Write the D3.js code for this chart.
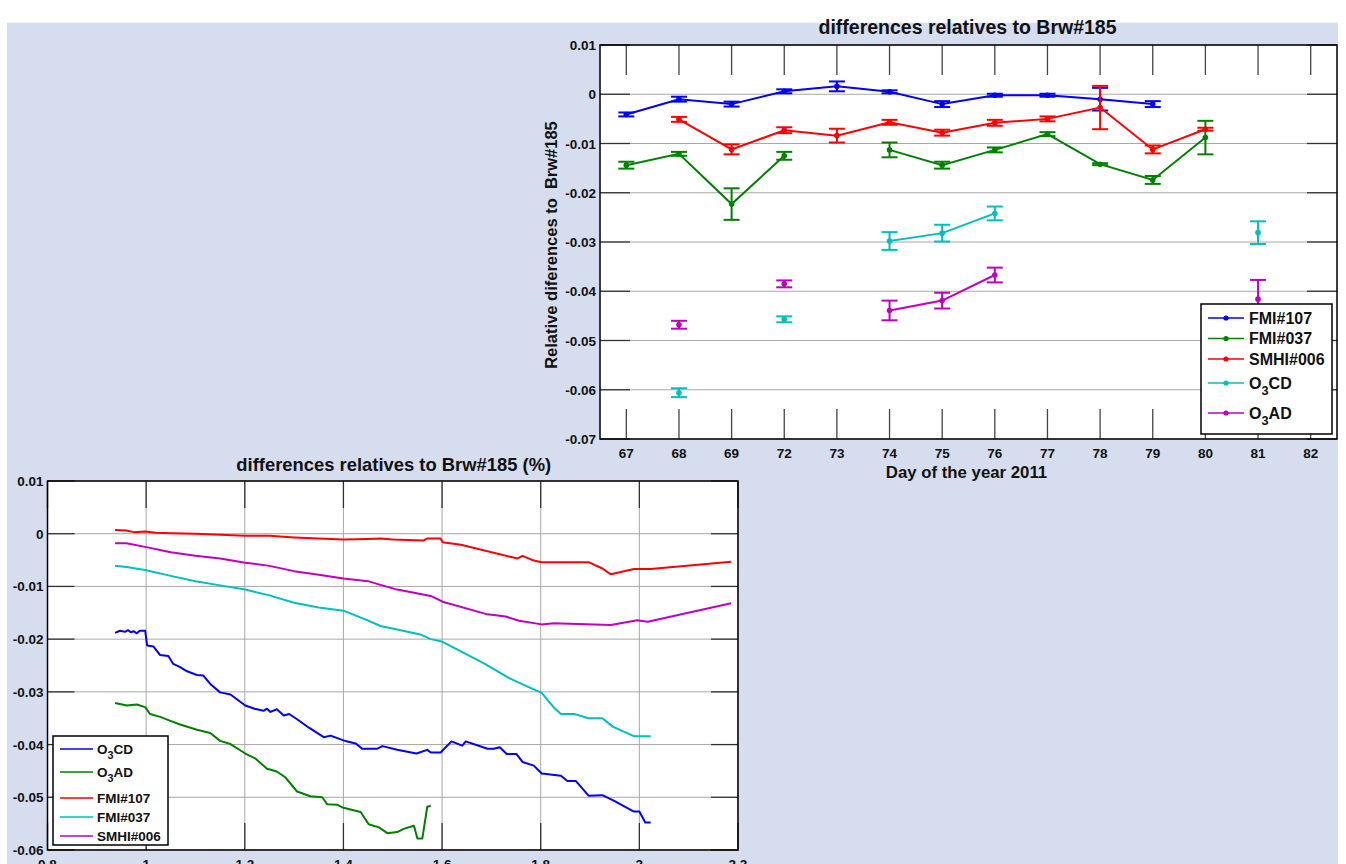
<!DOCTYPE html>
<html><head><meta charset="utf-8">
<script src="https://cdn.jsdelivr.net/npm/d3@7"></script>
<style>body{margin:0;background:#fff}svg{display:block}text{font-family:"Liberation Sans",Arial,sans-serif;font-weight:bold;fill:#111}</style>
</head><body><svg id="c" width="1346" height="864"></svg>
<script>
// ---------- Top chart data ----------
const days = ["67","68","69","72","73","74","75","76","77","78","79","80","81","82"];
const fmi107 = [-0.0041,-0.0010,-0.0020,0.0006,0.0016,0.0005,-0.0020,-0.0002,-0.0002,-0.0010,-0.0020,null,null,null];
const fmi107Err = [0.0004,0.0005,0.0005,0.0004,0.0010,0.0003,0.0006,0.0003,0.0003,0.0023,0.0006,null,null,null];
const fmi037 = [-0.0144,-0.0121,-0.0223,-0.0125,null,-0.0113,-0.0144,-0.0113,-0.0081,-0.0142,-0.0174,-0.0088,null,null];
const fmi037Err = [0.0007,0.0004,0.0032,0.0008,null,0.0015,0.0007,0.0005,0.0004,0.0002,0.0008,0.0034,null,null];
const smhi006 = [null,-0.0051,-0.0112,-0.0073,-0.0084,-0.0057,-0.0078,-0.0058,-0.0050,-0.0027,-0.0112,-0.0071,null,null];
const smhi006Err = [null,0.0005,0.0010,0.0006,0.0014,0.0005,0.0006,0.0006,0.0005,0.0044,0.0008,0.0003,null,null];
const o3cd = [null,-0.0606,null,-0.0457,null,-0.0298,-0.0282,-0.0242,null,null,null,null,-0.0281,null];
const o3cdErr = [null,0.0009,null,0.0006,null,0.0018,0.0017,0.0014,null,null,null,null,0.0023,null];
const o3ad = [null,-0.0468,null,-0.0385,null,-0.0439,-0.0419,-0.0367,null,null,null,null,-0.0416,null];
const o3adErr = [null,0.0008,null,0.0007,null,0.0020,0.0016,0.0015,null,null,null,null,0.0039,null];
const topYTicks = [0.01,0,-0.01,-0.02,-0.03,-0.04,-0.05,-0.06,-0.07];
const topYLabels = ["0.01","0","-0.01","-0.02","-0.03","-0.04","-0.05","-0.06","-0.07"];

// ---------- Bottom chart data ----------
const cdX = [0.937,0.947,0.957,0.963,0.969,0.975,0.981,0.987,0.998,1.002,1.015,1.028,1.045,1.055,1.069,1.083,1.103,1.116,1.130,1.150,1.171,1.201,1.220,1.238,1.245,1.252,1.265,1.279,1.290,1.306,1.330,1.360,1.374,1.400,1.408,1.425,1.438,1.468,1.479,1.509,1.548,1.570,1.577,1.597,1.619,1.641,1.648,1.692,1.705,1.717,1.731,1.751,1.763,1.786,1.802,1.841,1.854,1.871,1.897,1.925,1.949,1.989,2.000,2.012,2.023];
const cdY = [-0.0188,-0.0184,-0.0186,-0.0183,-0.0187,-0.0185,-0.0189,-0.0184,-0.0184,-0.0212,-0.0214,-0.0230,-0.0232,-0.0247,-0.0253,-0.0261,-0.0268,-0.0269,-0.0285,-0.0301,-0.0305,-0.0326,-0.0332,-0.0336,-0.0332,-0.0338,-0.0333,-0.0345,-0.0342,-0.0352,-0.0368,-0.0386,-0.0383,-0.0392,-0.0394,-0.0398,-0.0408,-0.0408,-0.0403,-0.0410,-0.0417,-0.0410,-0.0415,-0.0415,-0.0394,-0.0402,-0.0394,-0.0408,-0.0408,-0.0405,-0.0418,-0.0418,-0.0433,-0.0440,-0.0455,-0.0459,-0.0469,-0.0469,-0.0497,-0.0496,-0.0507,-0.0527,-0.0527,-0.0548,-0.0548];
const adX = [0.937,0.961,0.981,0.998,1.008,1.030,1.049,1.069,1.103,1.130,1.150,1.171,1.201,1.221,1.245,1.265,1.282,1.306,1.333,1.357,1.367,1.387,1.400,1.435,1.451,1.472,1.489,1.509,1.522,1.543,1.550,1.560,1.570,1.577];
const adY = [-0.0321,-0.0326,-0.0324,-0.0329,-0.0342,-0.0348,-0.0355,-0.0362,-0.0372,-0.0378,-0.0393,-0.0399,-0.0417,-0.0426,-0.0446,-0.0451,-0.0462,-0.0489,-0.0498,-0.0500,-0.0513,-0.0514,-0.0520,-0.0528,-0.0551,-0.0557,-0.0568,-0.0566,-0.0560,-0.0554,-0.0578,-0.0578,-0.0518,-0.0516];
const f107X = [0.937,0.960,0.975,0.998,1.020,1.050,1.100,1.150,1.201,1.250,1.300,1.350,1.400,1.450,1.475,1.500,1.562,1.570,1.597,1.601,1.638,1.753,1.763,1.786,1.802,1.897,1.925,1.942,1.989,2.023,2.186];
const f107Y = [0.0007,0.0006,0.0003,0.0004,0.0002,0.0001,0.0000,-0.0002,-0.0004,-0.0004,-0.0007,-0.0009,-0.0011,-0.0010,-0.0009,-0.0011,-0.0013,-0.0009,-0.0009,-0.0016,-0.0021,-0.0047,-0.0042,-0.0051,-0.0054,-0.0054,-0.0066,-0.0077,-0.0067,-0.0067,-0.0053];
const f037X = [0.937,0.960,0.998,1.050,1.100,1.150,1.201,1.250,1.300,1.350,1.400,1.448,1.475,1.516,1.556,1.577,1.601,1.685,1.736,1.780,1.802,1.826,1.841,1.868,1.897,1.925,1.946,1.989,2.023];
const f037Y = [-0.0061,-0.0063,-0.0069,-0.0080,-0.0090,-0.0098,-0.0106,-0.0117,-0.0131,-0.0140,-0.0146,-0.0164,-0.0175,-0.0183,-0.0191,-0.0200,-0.0205,-0.0246,-0.0274,-0.0293,-0.0302,-0.0329,-0.0342,-0.0342,-0.0350,-0.0350,-0.0366,-0.0384,-0.0384];
const s006X = [0.937,0.960,0.998,1.050,1.100,1.150,1.201,1.250,1.300,1.350,1.400,1.450,1.475,1.509,1.577,1.601,1.692,1.729,1.756,1.802,1.826,1.942,1.996,2.017,2.186];
const s006Y = [-0.0018,-0.0018,-0.0025,-0.0035,-0.0042,-0.0047,-0.0055,-0.0061,-0.0071,-0.0078,-0.0085,-0.0090,-0.0097,-0.0106,-0.0118,-0.0129,-0.0153,-0.0157,-0.0165,-0.0172,-0.0170,-0.0173,-0.0164,-0.0167,-0.0132];
const botXTicks = [0.8,1,1.2,1.4,1.6,1.8,2,2.2];
const botXLabels = ["0.8","1","1.2","1.4","1.6","1.8","2","2.2"];
const botYTicks = [0.01,0,-0.01,-0.02,-0.03,-0.04,-0.05,-0.06];
const botYLabels = ["0.01","0","-0.01","-0.02","-0.03","-0.04","-0.05","-0.06"];

const C = {blue:"#0000ff", green:"#008000", red:"#ff0000", cyan:"#00bfbf", mag:"#bf00bf"};
const svg = d3.select("#c");
svg.append("rect").attr("x",7).attr("y",22.7).attr("width",1331).attr("height",842).attr("fill","#d5ddef");

// ================= TOP CHART =================
const T = {l:600, r:1337, t:45, b:439};
const tx = d3.scalePoint().domain(days).range([T.l,T.r]).padding(0.5);
const ty = d3.scaleLinear().domain([-0.07,0.01]).range([T.b,T.t]);
const gT = svg.append("g");
gT.append("rect").attr("x",T.l).attr("y",T.t).attr("width",T.r-T.l).attr("height",T.b-T.t).attr("fill","#fff");
gT.selectAll(".hg").data(topYTicks).join("line").attr("x1",T.l).attr("x2",T.r)
  .attr("y1",d=>ty(d)).attr("y2",d=>ty(d)).attr("stroke","#a8a8a8").attr("stroke-width",1);
const tl = 30;
gT.selectAll(".tt").data(days).join("line").attr("x1",d=>tx(d)).attr("x2",d=>tx(d)).attr("y1",T.t).attr("y2",T.t+tl).attr("stroke","#444").attr("stroke-width",1.3);
gT.selectAll(".tb").data(days).join("line").attr("x1",d=>tx(d)).attr("x2",d=>tx(d)).attr("y1",T.b-tl).attr("y2",T.b).attr("stroke","#444").attr("stroke-width",1.3);
gT.selectAll(".tlft").data(topYTicks).join("line").attr("x1",T.l).attr("x2",T.l+tl).attr("y1",d=>ty(d)).attr("y2",d=>ty(d)).attr("stroke","#333").attr("stroke-width",1.3);
gT.selectAll(".trgt").data(topYTicks).join("line").attr("x1",T.r-tl).attr("x2",T.r).attr("y1",d=>ty(d)).attr("y2",d=>ty(d)).attr("stroke","#333").attr("stroke-width",1.3);
gT.selectAll(".yl").data(topYTicks).join("text").attr("x",T.l-4).attr("y",d=>ty(d)+5).attr("text-anchor","end").attr("font-size",13.5).text((d,i)=>topYLabels[i]);
gT.selectAll(".xl").data(days).join("text").attr("x",d=>tx(d)).attr("y",T.b+19).attr("text-anchor","middle").attr("font-size",13.5).text(d=>d);
gT.append("text").attr("x",(T.l+T.r)/2-1).attr("y",34).attr("text-anchor","middle").attr("font-size",19.5).text("differences relatives to Brw#185");
gT.append("text").attr("x",(T.l+T.r)/2-2).attr("y",478).attr("text-anchor","middle").attr("font-size",16.8).text("Day of the year 2011");
gT.append("text").attr("transform",`translate(557,${(T.t+T.b)/2+3}) rotate(-90)`).attr("text-anchor","middle").attr("font-size",16.5).attr("xml:space","preserve").text("Relative diferences to  Brw#185");

const topSeries = [
  {name:"FMI#107", v:fmi107, e:fmi107Err, c:C.blue},
  {name:"FMI#037", v:fmi037, e:fmi037Err, c:C.green},
  {name:"SMHI#006", v:smhi006, e:smhi006Err, c:C.red},
  {name:"O3CD", v:o3cd, e:o3cdErr, c:C.cyan, sub:["O","3","CD"]},
  {name:"O3AD", v:o3ad, e:o3adErr, c:C.mag, sub:["O","3","AD"]}
];
const lineT = d3.line().defined(d=>d.v!==null).x(d=>tx(d.day)).y(d=>ty(d.v));
topSeries.forEach(s=>{
  const pts = days.map((day,i)=>({day, v:s.v[i], e:s.e[i]}));
  const g = gT.append("g");
  g.append("path").datum(pts).attr("d",lineT).attr("fill","none").attr("stroke",s.c).attr("stroke-width",2);
  const ok = pts.filter(d=>d.v!==null);
  g.selectAll(".ev").data(ok).join("line").attr("x1",d=>tx(d.day)).attr("x2",d=>tx(d.day)).attr("y1",d=>ty(d.v-d.e)).attr("y2",d=>ty(d.v+d.e)).attr("stroke",s.c).attr("stroke-width",2);
  g.selectAll(".ct").data(ok).join("line").attr("x1",d=>tx(d.day)-8).attr("x2",d=>tx(d.day)+8).attr("y1",d=>ty(d.v+d.e)).attr("y2",d=>ty(d.v+d.e)).attr("stroke",s.c).attr("stroke-width",2);
  g.selectAll(".cb").data(ok).join("line").attr("x1",d=>tx(d.day)-8).attr("x2",d=>tx(d.day)+8).attr("y1",d=>ty(d.v-d.e)).attr("y2",d=>ty(d.v-d.e)).attr("stroke",s.c).attr("stroke-width",2);
  g.selectAll(".dt").data(ok).join("circle").attr("cx",d=>tx(d.day)).attr("cy",d=>ty(d.v)).attr("r",2.8).attr("fill",s.c);
});
gT.append("rect").attr("x",T.l).attr("y",T.t).attr("width",T.r-T.l).attr("height",T.b-T.t).attr("fill","none").attr("stroke","#000").attr("stroke-width",1.5);

function labelText(sel, s, fs){
  if(s.sub){
    sel.append("tspan").text(s.sub[0]);
    sel.append("tspan").attr("dy",fs*0.4).attr("font-size",fs*0.8).text(s.sub[1]);
    sel.append("tspan").attr("dy",-fs*0.4).text(s.sub[2]);
  } else sel.text(s.name);
}
const LT = {x:1201, y:304, w:131, h:130};
const lg = gT.append("g");
lg.append("rect").attr("x",LT.x).attr("y",LT.y).attr("width",LT.w).attr("height",LT.h).attr("fill","#fff").attr("stroke","#000").attr("stroke-width",1.5);
const legYT = [318, 338.5, 359, 383, 413];
topSeries.forEach((s,i)=>{
  const y = legYT[i];
  lg.append("line").attr("x1",LT.x+7).attr("x2",LT.x+43).attr("y1",y).attr("y2",y).attr("stroke",s.c).attr("stroke-width",1.5);
  lg.append("circle").attr("cx",LT.x+25).attr("cy",y).attr("r",2.6).attr("fill",s.c);
  const t = lg.append("text").attr("x",LT.x+48).attr("y",y+5.5).attr("font-size",16);
  labelText(t,s,16);
});

// ================= BOTTOM CHART =================
const B = {l:47.5, r:738, t:481, b:850};
const bx = d3.scaleLinear().domain([0.8,2.2]).range([B.l,B.r]);
const by = d3.scaleLinear().domain([-0.06,0.01]).range([B.b,B.t]);
const gB = svg.append("g");
gB.append("rect").attr("x",B.l).attr("y",B.t).attr("width",B.r-B.l).attr("height",B.b-B.t).attr("fill","#fff");
gB.selectAll(".vg").data(botXTicks).join("line").attr("x1",d=>bx(d)).attr("x2",d=>bx(d)).attr("y1",B.t).attr("y2",B.b).attr("stroke","#a8a8a8").attr("stroke-width",1);
gB.selectAll(".hg").data(botYTicks).join("line").attr("x1",B.l).attr("x2",B.r).attr("y1",d=>by(d)).attr("y2",d=>by(d)).attr("stroke","#a8a8a8").attr("stroke-width",1);
const bl = 27;
gB.selectAll(".tt").data(botXTicks).join("line").attr("x1",d=>bx(d)).attr("x2",d=>bx(d)).attr("y1",B.t).attr("y2",B.t+bl).attr("stroke","#333").attr("stroke-width",1.3);
gB.selectAll(".tb").data(botXTicks).join("line").attr("x1",d=>bx(d)).attr("x2",d=>bx(d)).attr("y1",B.b-bl).attr("y2",B.b).attr("stroke","#333").attr("stroke-width",1.3);
gB.selectAll(".tlft").data(botYTicks).join("line").attr("x1",B.l).attr("x2",B.l+bl).attr("y1",d=>by(d)).attr("y2",d=>by(d)).attr("stroke","#333").attr("stroke-width",1.3);
gB.selectAll(".trgt").data(botYTicks).join("line").attr("x1",B.r-bl).attr("x2",B.r).attr("y1",d=>by(d)).attr("y2",d=>by(d)).attr("stroke","#333").attr("stroke-width",1.3);
gB.selectAll(".yl").data(botYTicks).join("text").attr("x",B.l-4).attr("y",d=>by(d)+5).attr("text-anchor","end").attr("font-size",13.5).text((d,i)=>botYLabels[i]);
gB.selectAll(".xl").data(botXTicks).join("text").attr("x",d=>bx(d)).attr("y",B.b+19).attr("text-anchor","middle").attr("font-size",13.5).text((d,i)=>botXLabels[i]);
gB.append("text").attr("x",(B.l+B.r)/2+1).attr("y",471).attr("text-anchor","middle").attr("font-size",18.4).text("differences relatives to Brw#185 (%)");

const botSeries = [
  {name:"O3CD", x:cdX, y:cdY, c:C.blue, sub:["O","3","CD"]},
  {name:"O3AD", x:adX, y:adY, c:C.green, sub:["O","3","AD"]},
  {name:"FMI#107", x:f107X, y:f107Y, c:C.red},
  {name:"FMI#037", x:f037X, y:f037Y, c:C.cyan},
  {name:"SMHI#006", x:s006X, y:s006Y, c:C.mag}
];
const lineB = d3.line().x(d=>bx(d[0])).y(d=>by(d[1]));
botSeries.forEach(s=>{
  gB.append("path").datum(s.x.map((v,i)=>[v,s.y[i]])).attr("d",lineB).attr("fill","none").attr("stroke",s.c).attr("stroke-width",2).attr("stroke-linejoin","round");
});
gB.append("rect").attr("x",B.l).attr("y",B.t).attr("width",B.r-B.l).attr("height",B.b-B.t).attr("fill","none").attr("stroke","#000").attr("stroke-width",1.5);

const LB = {x:53, y:736, w:115, h:109};
const lb = gB.append("g");
lb.append("rect").attr("x",LB.x).attr("y",LB.y).attr("width",LB.w).attr("height",LB.h).attr("fill","#fff").attr("stroke","#000").attr("stroke-width",1.5);
const legYB = [749, 772, 798, 817, 836];
botSeries.forEach((s,i)=>{
  const y = legYB[i];
  lb.append("line").attr("x1",LB.x+7).attr("x2",LB.x+40).attr("y1",y).attr("y2",y).attr("stroke",s.c).attr("stroke-width",1.5);
  const t = lb.append("text").attr("x",LB.x+44).attr("y",y+5).attr("font-size",13.5);
  labelText(t,s,13.5);
});
</script></body></html>
